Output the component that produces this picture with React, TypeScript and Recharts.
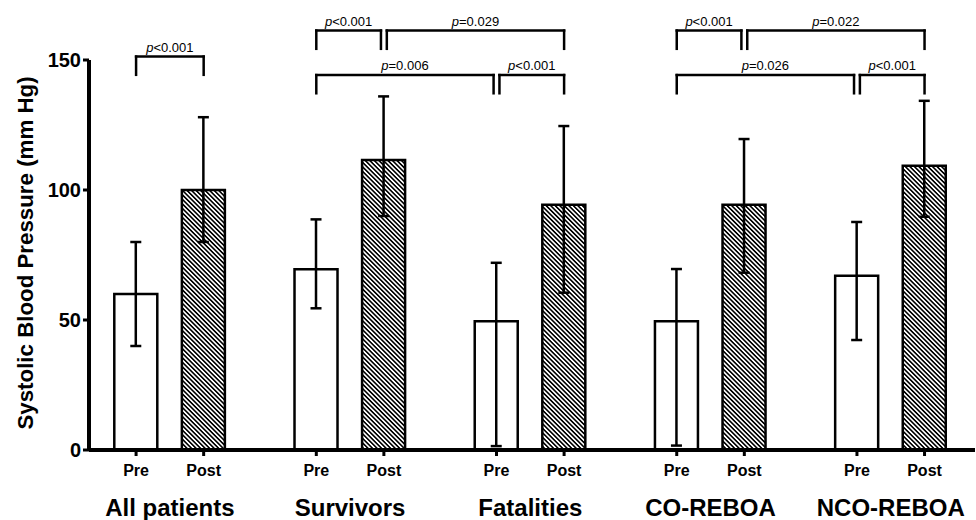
import { ComposedChart, Bar, Cell, XAxis, YAxis, ErrorBar, ReferenceLine } from "recharts"

const groups = ["All patients", "Survivors", "Fatalities", "CO-REBOA", "NCO-REBOA"]
const phases = ["Pre", "Post"]
const preValues = [60, 69.5, 49.5, 49.5, 67]
const preLow = [40, 54.5, 1.5, 1.7, 42.3]
const preHigh = [80, 88.7, 72, 69.6, 87.7]
const postValues = [100, 111.5, 94.3, 94.3, 109.3]
const postLow = [80, 90, 60.5, 68.2, 89.7]
const postHigh = [128, 136, 124.6, 119.6, 134.3]
const yTicks = [0, 50, 100, 150]

// [group, phase] pairs compared, p-value text, bracket row
const comparisons = [
  { from: [0, 0], to: [0, 1], p: "<0.001", row: 0 },
  { from: [1, 0], to: [1, 1], p: "<0.001", row: 1 },
  { from: [1, 1], to: [2, 1], p: "=0.029", row: 1 },
  { from: [1, 0], to: [2, 0], p: "=0.006", row: 2 },
  { from: [2, 0], to: [2, 1], p: "<0.001", row: 2 },
  { from: [3, 0], to: [3, 1], p: "<0.001", row: 1 },
  { from: [3, 1], to: [4, 1], p: "=0.022", row: 1 },
  { from: [3, 0], to: [4, 0], p: "=0.026", row: 2 },
  { from: [4, 0], to: [4, 1], p: "<0.001", row: 2 },
]
const rowLevels = [151.3, 161.3, 144.2]

const FONT = "'Liberation Sans', Arial, sans-serif"
const slot = (g: number, ph: number) => g * 8 + ph * 3
const X_DOMAIN = [-2.09, 37.24]

const data = groups.flatMap((g, i) => [
  { x: slot(i, 0), phase: 0, value: preValues[i], err: [preValues[i] - preLow[i], preHigh[i] - preValues[i]] },
  { x: slot(i, 1), phase: 1, value: postValues[i], err: [postValues[i] - postLow[i], postHigh[i] - postValues[i]] },
])

const tickPos = data.map(d => d.x)
const groupPos = groups.map((_, i) => slot(i, 0) + 1.5)

function PLabel(props: any) {
  const { viewBox, text } = props
  if (!viewBox) return null
  const cx = viewBox.x + viewBox.width / 2
  return (
    <text x={cx} y={viewBox.y - 5} textAnchor="middle" fontSize={13} fill="#000" fontFamily={FONT}>
      <tspan fontStyle="italic">p</tspan>{text}
    </text>
  )
}

function YTitle(props: any) {
  const vb = props.viewBox || { y: 60, height: 390 }
  const cy = vb.y + vb.height / 2 - 2
  return (
    <text transform={`translate(33, ${cy}) rotate(-90)`} textAnchor="middle" fontSize={22.3} fontWeight="bold" fill="#000" fontFamily={FONT}>
      Systolic Blood Pressure (mm Hg)
    </text>
  )
}

export default function App() {
  const gap = 0.13
  const tip = 7
  const lines: any[] = []
  comparisons.forEach((c, k) => {
    let x1 = slot(c.from[0], c.from[1])
    let x2 = slot(c.to[0], c.to[1])
    const sameRow = comparisons.filter((o, j) => j !== k && o.row === c.row)
    if (sameRow.some(o => slot(o.to[0], o.to[1]) === x1)) x1 += gap
    if (sameRow.some(o => slot(o.from[0], o.from[1]) === x2)) x2 -= gap
    const y = rowLevels[c.row]
    const common = { stroke: "#000", strokeWidth: 2.5, ifOverflow: "visible" as const, strokeLinecap: "square" as const }
    lines.push(<ReferenceLine key={`h${k}`} segment={[{ x: x1, y }, { x: x2, y }]} {...common} label={<PLabel text={c.p} />} />)
    lines.push(<ReferenceLine key={`l${k}`} segment={[{ x: x1, y }, { x: x1, y: y - tip }]} {...common} />)
    lines.push(<ReferenceLine key={`r${k}`} segment={[{ x: x2, y }, { x: x2, y: y - tip }]} {...common} />)
  })

  return (
    <div style={{ position: "absolute", left: 0, top: 0, fontFamily: FONT }}>
      <svg width={0} height={0} style={{ position: "absolute" }}>
        <defs>
          <pattern id="hatch" patternUnits="userSpaceOnUse" width={3.2} height={3.2} patternTransform="rotate(-45)">
            <rect width={3.2} height={3.2} fill="#fff" />
            <line x1={0.8} y1={0} x2={0.8} y2={3.2} stroke="#000" strokeWidth={1.6} />
          </pattern>
        </defs>
      </svg>
      <ComposedChart width={976} height={520} data={data} margin={{ top: 60, right: 1, left: 0, bottom: 0 }} style={{ fontFamily: FONT }}>
        <YAxis
          type="number"
          domain={[0, 150]}
          ticks={yTicks}
          width={89}
          stroke="#000"
          axisLine={{ stroke: "#000", strokeWidth: 4 }}
          tickLine={{ stroke: "#000", strokeWidth: 3 }}
          tickSize={6}
          tickMargin={2}
          tick={{ fill: "#000", fontSize: 20, fontWeight: "bold" }}
          label={<YTitle />}
        />
        <XAxis
          dataKey="x"
          type="number"
          domain={X_DOMAIN}
          allowDataOverflow
          ticks={tickPos}
          interval={0}
          height={30}
          stroke="#000"
          axisLine={{ stroke: "#000", strokeWidth: 4 }}
          tickLine={{ stroke: "#000", strokeWidth: 3 }}
          tickSize={6}
          tickMargin={9}
          tick={{ fill: "#000", fontSize: 16, fontWeight: "bold" }}
          tickFormatter={(v: number) => phases[tickPos.indexOf(v) % 2]}
        />
        <XAxis
          xAxisId="g"
          dataKey="x"
          type="number"
          domain={X_DOMAIN}
          allowDataOverflow
          ticks={groupPos}
          interval={0}
          height={40}
          axisLine={false}
          tickLine={false}
          tickSize={0}
          tickMargin={19}
          tick={{ fill: "#000", fontSize: 24, fontWeight: "bold" }}
          tickFormatter={(v: number) => groups[groupPos.indexOf(v)]}
        />
        <Bar dataKey="value" barSize={43} stroke="#000" strokeWidth={2.5} isAnimationActive={false}>
          {data.map((d, i) => (
            <Cell key={i} fill={d.phase === 0 ? "#fff" : "url(#hatch)"} />
          ))}
          <ErrorBar dataKey="err" direction="y" width={5.5} stroke="#000" strokeWidth={2.5} />
        </Bar>
        {lines}
      </ComposedChart>
    </div>
  )
}
